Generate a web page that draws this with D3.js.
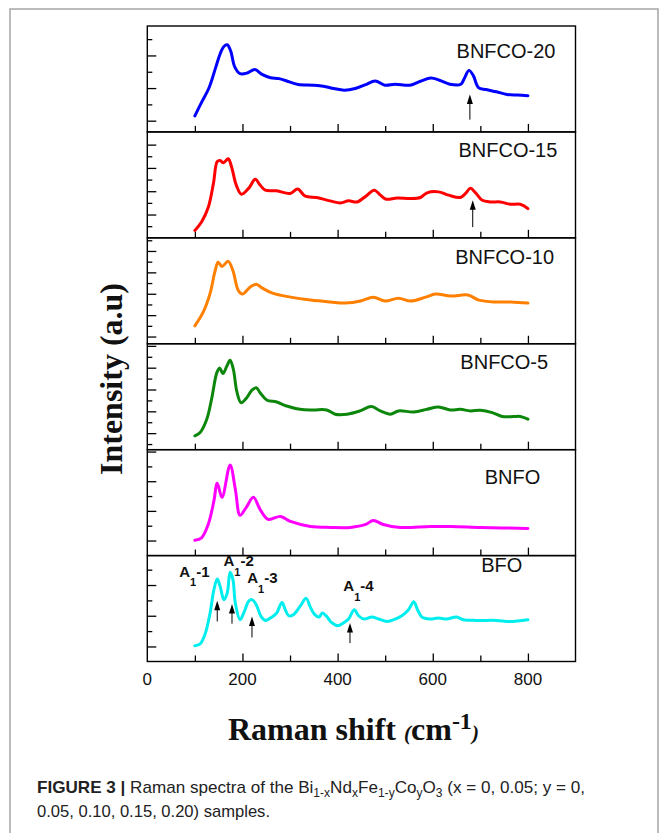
<!DOCTYPE html>
<html>
<head>
<meta charset="utf-8">
<script src="https://cdnjs.cloudflare.com/ajax/libs/d3/7.8.5/d3.min.js"></script>
<style>
body { margin: 0; background: #fff; }
</style>
</head>
<body>
<svg id="chart"></svg>
<script>
// samples, top to bottom
var samples = ["BNFCO-20", "BNFCO-15", "BNFCO-10", "BNFCO-5", "BNFO", "BFO"];
var colors = ["#0000ff", "#ff0000", "#ff8000", "#0c870c", "#ff00ff", "#00eeee"];

// spectra: [raman shift (cm-1), intensity (a.u., % of panel)]
var bnfco20 = [[100,15.2],[113,27],[130,41.9],[144,61.2],[153,73.6],[161,80.7],[168,82.3],[175,76.7],[184,61.2],[195,55],[210,55.6],[226,59],[241,54.3],[259,51.2],[277,50.3],[299,47.2],[317,44.7],[348,44.1],[370,43.2],[392,41],[414,39.4],[437,41],[459,44.7],[479,48.1],[499,44.1],[521,45],[552,44.1],[574,47.8],[596,50.9],[614,48.8],[636,45],[659,45],[667,51.2],[676,58.1],[685,53.4],[696,41.9],[712,40],[734,37.9],[756,35.4],[778,34.8],[800,34.2]];
var bnfco15 = [[100,7],[114,14.9],[128,28.6],[139,51.4],[147,72],[153,73],[160,71],[170,74.6],[177,67.2],[187,49.8],[198,41.2],[213,46.7],[227,55.2],[237,49.8],[248,45],[272,44.4],[300,41.9],[316,46],[332,39.3],[356,38.1],[384,34.9],[406,33],[423,34.9],[441,33.9],[462,40.3],[477,45],[490,40.3],[502,36.5],[525,37.7],[553,37.1],[574,38.1],[588,42.5],[612,43.4],[633,40.3],[658,38.1],[669,41.9],[679,46.7],[690,42.5],[704,35.5],[721,33.9],[742,33.9],[763,31.7],[784,31.7],[800,27.6]];
var bnfco10 = [[100,16.9],[118,30.3],[132,47.5],[142,67.8],[149,76.9],[157,73],[170,77.8],[180,69],[191,50.6],[200,46.9],[216,53.4],[229,56.2],[242,52.5],[263,47.8],[301,44],[343,41.2],[385,39.4],[416,38.4],[448,40.3],[475,44],[500,40.3],[528,43],[553,40.3],[585,44],[606,46.9],[638,45],[674,46],[697,41.2],[732,39.4],[764,39.4],[800,38.4]];
var bnfco5 = [[100,13.1],[111,16.3],[125,28.8],[135,47.5],[146,72.5],[152,77.2],[159,71.9],[167,78.7],[174,84.4],[181,75.6],[188,55.3],[197,44.4],[209,49.1],[220,56.2],[229,58.5],[237,53.8],[251,46.9],[272,45],[293,41.2],[321,38.1],[349,37.5],[377,37.5],[395,33.5],[420,33.5],[447,36.6],[471,40.7],[490,36.6],[511,33.5],[528,36.6],[560,35.6],[588,38.1],[612,40.3],[637,37.5],[658,38.1],[679,36.6],[700,37.2],[725,35],[746,31.3],[770,31.3],[784,31.3],[800,28.8]];
var bnfo = [[100,14.5],[114,16.8],[128,29.4],[140,51.6],[147,68.4],[157,55],[174,85.5],[185,62.7],[195,38],[208,45.6],[223,55],[237,43.7],[254,34.2],[280,37],[301,32.3],[343,27.5],[385,26.6],[427,26.6],[459,29.4],[475,33.2],[496,29.4],[532,26.6],[595,27.5],[638,27.5],[701,26.6],[800,25.6]];
var bfo = [[100,14.9],[111,16.7],[121,25.3],[132,45.8],[140,67.8],[147,77.9],[153,71],[161,58.4],[168,64.7],[174,84.2],[180,77.3],[185,55.2],[195,39.5],[204,47.3],[213,56.8],[220,58.4],[229,53.6],[239,42.6],[248,38.8],[262,42],[272,45.8],[283,55.8],[290,48.9],[297,43.2],[307,44.2],[321,52],[334,59.6],[342,52],[352,44.2],[361,42],[368,45.8],[377,42.6],[387,36.9],[400,33.8],[412,36.3],[423,40.1],[435,48.9],[444,43.2],[455,40.1],[472,42],[486,40.1],[504,37.8],[521,40.1],[535,43.2],[549,48.9],[560,56.5],[568,48.9],[577,42],[594,40.1],[612,41.1],[629,40.1],[650,42],[664,39.5],[692,38.8],[734,38.8],[762,37.8],[800,39.5]];
var spectra = [bnfco20, bnfco15, bnfco10, bnfco5, bnfo, bfo];

// sample label anchors [cm-1, a.u.]
var labelAt = [[650,69.5],[654,76.2],[647,75],[658,76.3],[709,67.4],[702,84.6]];

// x ticks
var xTicks = [100, 200, 300, 400, 500, 600, 700, 800];
var xTickLabels = [0, 200, 400, 600, 800];

// y ticks (unlabelled), per panel: first tick and step in a.u.
var yTickStart = [10.6, 11, 6.8, 5.3, 14.2, 14.2];
var yTickStep = [15.4, 11, 10.1, 10.3, 14, 14.5];
var yTickPhase = [0, 1, 0, 1, 0, 0];

// arrows: panel, shift, tip, tail
var arrows = [
  ["BNFCO-20", 678, 35.4, 11.6],
  ["BNFCO-15", 684, 35.5, 10.1],
  ["BFO", 147, 57.4, 37.8],
  ["BFO", 178, 54.3, 35.7],
  ["BFO", 220, 42.6, 22.7],
  ["BFO", 426, 36.3, 17.4]
];
// A1 mode labels in BFO panel: mode, shift, a.u.
var modes = [["-1", 67, 79.5], ["-2", 160, 89.9], ["-3", 210, 74.2], ["-4", 412, 66.2]];

var caption1 = [["b", "FIGURE 3 |"], ["n", " Raman spectra of the Bi"], ["s", "1-x"], ["n", "Nd"], ["s", "x"], ["n", "Fe"], ["s", "1-y"], ["n", "Co"], ["s", "y"], ["n", "O"], ["s", "3"], ["n", " (x = 0, 0.05; y = 0,"]];
var caption2 = "0.05, 0.10, 0.15, 0.20) samples.";

var width = 663, height = 833;
var sans = "Liberation Sans, Arial, Helvetica, sans-serif";
var serif = "Liberation Serif, Times New Roman, serif";

var svg = d3.select("#chart").attr("width", width).attr("height", height);

svg.append("rect")
    .attr("x", 10).attr("y", 9)
    .attr("width", 648).attr("height", 840)
    .attr("fill", "none").attr("stroke", "#a5a5a5").attr("stroke-width", 1.5);

var x = d3.scaleLinear().domain([0, 900]).range([147.3, 575.5]);
var panel = d3.scaleBand().domain(samples).range([26, 661.5]);
var yScales = {};

samples.forEach(function(name, i) {
    var top = panel(name), h = panel.bandwidth();
    var y = d3.scaleLinear().domain([0, 100]).range([top + h, top]);
    yScales[name] = y;
    var g = svg.append("g");

    g.append("path")
        .datum(spectra[i])
        .attr("fill", "none")
        .attr("stroke", colors[i])
        .attr("stroke-width", 3)
        .attr("stroke-linejoin", "round")
        .attr("stroke-linecap", "round")
        .attr("d", d3.line()
            .x(function(d) { return x(d[0]); })
            .y(function(d) { return y(d[1]); })
            .curve(d3.curveCatmullRom.alpha(0.5)));

    g.append("rect")
        .attr("x", x(0)).attr("y", top)
        .attr("width", x(900) - x(0)).attr("height", h)
        .attr("fill", "none").attr("stroke", "#000").attr("stroke-width", 1.4);

    var xa = g.append("g")
        .attr("transform", "translate(0," + (top + h) + ")")
        .call(d3.axisBottom(x).tickValues(xTicks).tickSize(-8).tickFormat(""));
    xa.select(".domain").remove();
    xa.selectAll(".tick line")
        .attr("stroke-width", 1.3)
        .attr("y2", function(d) { return d % 200 ? -6 : -8; });

    var yt = d3.range(yTickStart[i], 99, yTickStep[i]);
    var ya = g.append("g")
        .attr("transform", "translate(" + x(0) + ",0)")
        .call(d3.axisRight(y).tickValues(yt).tickSize(9).tickFormat(""));
    ya.select(".domain").remove();
    ya.selectAll(".tick line")
        .attr("stroke-width", 1.3)
        .attr("x2", function(d, j) { return (j + yTickPhase[i]) % 2 ? 5 : 9; });

    g.append("text")
        .attr("x", x(labelAt[i][0]))
        .attr("y", y(labelAt[i][1]))
        .attr("font-family", sans)
        .attr("font-size", 20)
        .attr("fill", "#111")
        .text(name);
});

// tick labels on the bottom axis
svg.append("g").selectAll("text")
    .data(xTickLabels)
    .join("text")
    .attr("x", function(d) { return x(d); })
    .attr("y", 685)
    .attr("text-anchor", "middle")
    .attr("font-family", sans)
    .attr("font-size", 17)
    .attr("fill", "#111")
    .text(function(d) { return d; });

// arrows
arrows.forEach(function(a) {
    var y = yScales[a[0]], ax = x(a[1]), tip = y(a[2]);
    svg.append("line")
        .attr("x1", ax).attr("x2", ax)
        .attr("y1", tip + 6).attr("y2", y(a[3]))
        .attr("stroke", "#000").attr("stroke-width", 1);
    svg.append("path")
        .attr("d", "M" + ax + "," + tip + "l-3,9.5l6,0z")
        .attr("fill", "#000");
});

// A1 mode labels
modes.forEach(function(m, k) {
    var y = yScales["BFO"];
    var t = svg.append("text")
        .attr("x", x(m[1])).attr("y", y(m[2]))
        .attr("font-family", sans)
        .attr("font-weight", "bold")
        .attr("font-size", 15)
        .attr("fill", "#111");
    t.append("tspan").text("A");
    t.append("tspan").attr("font-size", 11).attr("dy", k ? 10 : 8.5).text("1");
    t.append("tspan").attr("dy", k ? -10 : -8.5).text(m[0]);
});

// axis titles
var xt = svg.append("text")
    .attr("x", 228).attr("y", 740)
    .attr("font-family", serif)
    .attr("font-weight", "bold")
    .attr("font-size", 32)
    .attr("fill", "#111");
xt.append("tspan").text("Raman shift ");
xt.append("tspan").attr("font-size", 21).attr("font-style", "italic").text("(");
xt.append("tspan").text("cm");
xt.append("tspan").attr("font-size", 24).attr("dy", -11).text("-1");
xt.append("tspan").attr("font-size", 21).attr("font-style", "italic").attr("dy", 11).text(")");

svg.append("text")
    .attr("transform", "translate(122,379) rotate(-90)")
    .attr("text-anchor", "middle")
    .attr("font-family", serif)
    .attr("font-weight", "bold")
    .attr("font-size", 32)
    .attr("fill", "#111")
    .text("Intensity (a.u)");

// caption
var c1 = svg.append("text")
    .attr("x", 37).attr("y", 793)
    .attr("font-family", sans)
    .attr("font-size", 17)
    .attr("fill", "#222")
    .attr("textLength", 548)
    .attr("lengthAdjust", "spacingAndGlyphs");
var shift = 0;
caption1.forEach(function(p) {
    var s = c1.append("tspan").text(p[1]);
    if (p[0] == "b") s.attr("font-weight", "bold");
    if (p[0] == "s") {
        s.attr("font-size", 12).attr("dy", 4 - shift);
        shift = 4;
    } else if (shift) {
        s.attr("dy", -shift);
        shift = 0;
    }
});
svg.append("text")
    .attr("x", 37).attr("y", 817)
    .attr("font-family", sans)
    .attr("font-size", 17)
    .attr("fill", "#222")
    .attr("textLength", 233)
    .attr("lengthAdjust", "spacingAndGlyphs")
    .text(caption2);
</script>
</body>
</html>
